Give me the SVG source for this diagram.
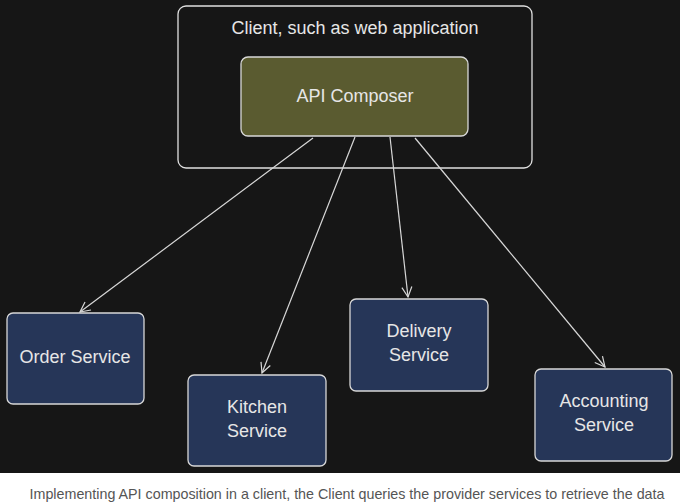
<svg xmlns="http://www.w3.org/2000/svg" width="680" height="504" viewBox="0 0 680 504">
<style>
.bg{fill:#161616}
.svc{fill:#263658;stroke:#d8d8d8;stroke-width:1.3}
.lbl{font-family:"Liberation Sans",Arial,sans-serif;font-size:18px;fill:#e6e6e6;text-anchor:middle}
.conn{stroke:#d8d8d8;stroke-width:1.2;fill:none;marker-end:url(#arr)}
.cap{font-family:"Liberation Sans",Arial,sans-serif;font-size:14.3px;fill:#555;text-anchor:middle}
</style>
<defs>
<marker id="arr" viewBox="0 0 12 12" refX="11" refY="6" markerWidth="12" markerHeight="12" markerUnits="userSpaceOnUse" orient="auto">
<path d="M1,1 L11,6 L1,11" fill="none" stroke="#d8d8d8" stroke-width="1.2"/>
</marker>
</defs>
<rect x="0" y="0" width="680" height="504" fill="#ffffff"/>
<rect class="bg" x="0" y="0" width="680" height="473"/>
<g id="client">
<rect x="178" y="6" width="354" height="162" rx="8" fill="none" stroke="#e0e0e0" stroke-width="1.3"/>
<text class="lbl" x="355" y="34">Client, such as web application</text>
</g>
<g id="api-composer">
<rect x="241" y="57" width="227" height="79" rx="7" fill="#5a5b30" stroke="#d8d8d8" stroke-width="1.3"/>
<text class="lbl" x="355" y="102">API Composer</text>
</g>
<g id="order-service">
<rect class="svc" x="7" y="313" width="137" height="91" rx="6"/>
<text class="lbl" x="75" y="363">Order Service</text>
</g>
<g id="kitchen-service">
<rect class="svc" x="188" y="375" width="138" height="91" rx="6"/>
<text class="lbl" x="257" y="413">Kitchen</text>
<text class="lbl" x="257" y="437">Service</text>
</g>
<g id="delivery-service">
<rect class="svc" x="350" y="299" width="138" height="92" rx="6"/>
<text class="lbl" x="419" y="337">Delivery</text>
<text class="lbl" x="419" y="361">Service</text>
</g>
<g id="accounting-service">
<rect class="svc" x="535" y="369" width="137" height="92" rx="6"/>
<text class="lbl" x="604" y="407">Accounting</text>
<text class="lbl" x="604" y="431">Service</text>
</g>
<g id="connectors">
<line class="conn" x1="313" y1="138" x2="80" y2="312"/>
<line class="conn" x1="355" y1="137" x2="262" y2="373"/>
<line class="conn" x1="390" y1="137" x2="408" y2="297"/>
<line class="conn" x1="415" y1="138" x2="605" y2="367"/>
</g>
<text class="cap" x="347" y="499">Implementing API composition in a client, the Client queries the provider services to retrieve the data</text>
</svg>
